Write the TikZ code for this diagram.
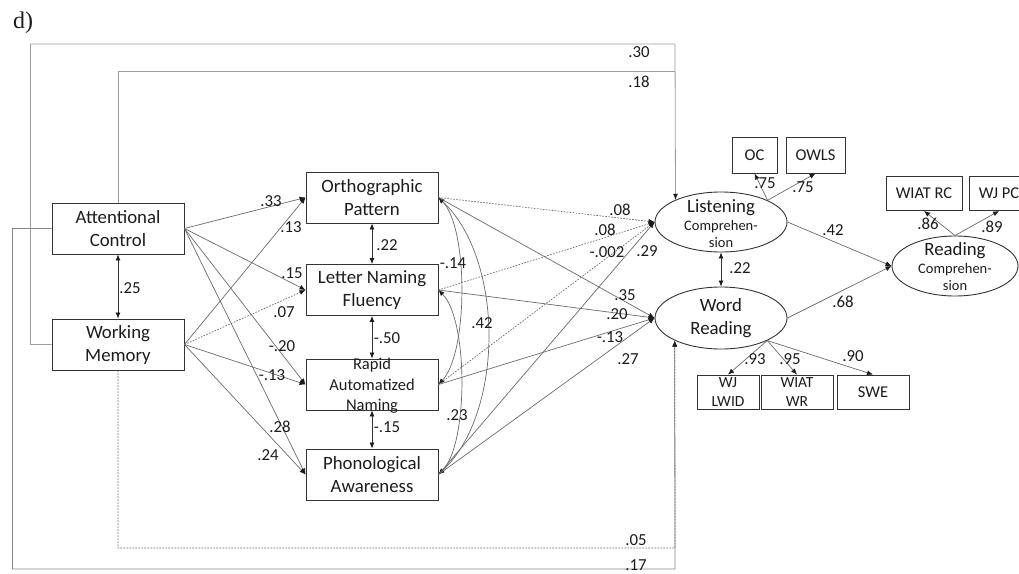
\documentclass[tikz,border=0pt]{standalone}
\usepackage{fontspec}
\setmainfont{Carlito}
\newfontfamily\paneltag{Liberation Serif}
\usetikzlibrary{arrows.meta,shapes.geometric}
\definecolor{ink}{HTML}{1C1C1C}
\definecolor{edge}{HTML}{6A6A6A}
\definecolor{faint}{HTML}{9C9C9C}
\definecolor{mid}{HTML}{858585}
\definecolor{frame}{HTML}{333333}

\begin{document}
\begin{tikzpicture}[x=1pt,y=-1pt,
  box/.style={draw=frame, line width=0.9pt, text=ink, align=center, inner sep=0pt,
    minimum width=132pt, minimum height=51pt, font=\fontsize{18.8}{23}\selectfont},
  ind/.style={draw=frame, line width=0.9pt, text=ink, align=center, inner sep=0pt,
    minimum height=34pt, font=\fontsize{16.5}{19}\selectfont},
  lat/.style={draw=frame, line width=0.9pt, ellipse, inner sep=0pt},
  txt/.style={text=ink, align=center, inner sep=0pt},
  lab/.style={text=ink, inner sep=0pt, font=\fontsize{16.8}{18}\selectfont},
  tip/.tip={Latex[length=6pt,width=5pt,color=ink]},
  path/.style={draw=edge, line width=0.7pt, -tip},
  dpath/.style={draw=edge, line width=0.7pt, dash pattern=on 1.6pt off 1.4pt, -tip},
  bi/.style={draw=edge, line width=0.7pt, tip-tip},
  vbi/.style={draw=frame, line width=0.8pt, tip-tip},
]
\useasboundingbox (0,0) rectangle (1019,573);

% panel tag
\node[text=ink, inner sep=0pt, font=\paneltag\fontsize{24}{26}\selectfont] (tag) at (23,23) {d)};

% predictors
\node[box] (AC) at (118,228.5) {Attentional\\Control};
\node[box] (WM) at (118,344.5) {Working\\Memory};

% reading-related skills
\node[box] (OP)  at (372,197.5) {Orthographic\\Pattern};
\node[box] (LNF) at (372,290)   {Letter Naming\\Fluency};
\node[box] (RAN) at (372,384.5) {};
\node[txt, font=\fontsize{16.5}{20.5}\selectfont] (RANt) at (372,386) {Rapid\\Automatized\\Naming};
\node[box] (PA)  at (372,474.5) {Phonological\\Awareness};

% latent outcomes
\node[lat, minimum width=132pt, minimum height=60pt] (LC) at (721,222) {};
\node[txt, font=\fontsize{14.5}{17}\selectfont] (LCt) at (721,224)
  {{\fontsize{18.8}{19}\selectfont Listening}\\[1pt]Comprehen-\\sion};
\node[lat, minimum width=132pt, minimum height=62pt] (WR) at (721,318) {};
\node[txt, font=\fontsize{18.8}{23}\selectfont] (WRt) at (721,318.5) {Word\\Reading};
\node[lat, minimum width=126pt, minimum height=60pt] (RC) at (955,266) {};
\node[txt, font=\fontsize{14.5}{17}\selectfont] (RCt) at (955,267)
  {{\fontsize{18.8}{19}\selectfont Reading}\\[1pt]Comprehen-\\sion};

% indicators
\node[ind, minimum width=45pt, minimum height=36pt] (OC)   at (754.5,155) {OC};
\node[ind, minimum width=59pt, minimum height=36pt] (OWLS) at (815.5,155) {OWLS};
\node[ind, minimum width=76pt] (WIATRC) at (924,193.5) {WIAT RC};
\node[ind, minimum width=60pt] (WJPC)   at (999,193.5) {WJ PC};
\node[ind, minimum width=62pt, font=\fontsize{15.5}{19}\selectfont] (WJLWID) at (728,392) {WJ\\LWID};
\node[ind, minimum width=72pt, font=\fontsize{15.5}{19}\selectfont] (WIATWR) at (797,392) {WIAT\\WR};
\node[ind, minimum width=72pt] (SWE) at (873,392) {SWE};

% long paths around the model
\draw[faint, line width=0.8pt, -tip] (WM.west) -- ++(-21,0) |- (675,44) -- (LC.154.4);
\draw[faint, line width=0.8pt] (AC.north) |- (675,71);
\draw[mid, line width=0.8pt, -tip] (AC.west) -- ++(-39,0) |- (675,569) -- (WR.206.6);
\draw[dpath] (WM.south) |- (675,548) -- (WR.206.6);

% predictors to skills
\draw[vbi] (AC.south) -- (WM.north);
\draw[path] (AC.east) -- (OP.west);
\draw[path] (AC.east) -- (LNF.west);
\draw[path] (AC.east) -- (RAN.west);
\draw[path] (AC.east) -- (PA.west);
\draw[path] (WM.east) -- (OP.west);
\draw[dpath] (WM.east) -- (LNF.west);
\draw[path] (WM.east) -- (RAN.west);
\draw[path] (WM.east) -- (PA.west);

% correlations among skills
\draw[vbi] (OP.south) -- (LNF.north);
\draw[vbi] (LNF.south) -- (RAN.north);
\draw[vbi] (RAN.south) -- (PA.north);
\draw[bi] (OP.east) .. controls +(30,30) and +(30,-32) .. (RAN.east);
\draw[bi] (LNF.east) .. controls +(30,30) and +(30,-30) .. (PA.east);
\draw[bi] (OP.east) .. controls +(66,62) and +(66,-62) .. (PA.east);

% skills to outcomes
\draw[dpath] (OP.east) -- (LC.west);
\draw[path] (OP.east) -- (WR.west);
\draw[dpath] (LNF.east) -- (LC.west);
\draw[path] (LNF.east) -- (WR.west);
\draw[dpath] (RAN.east) -- (LC.west);
\draw[path] (RAN.east) -- (WR.west);
\draw[path] (PA.east) -- (LC.west);
\draw[path] (PA.east) -- (WR.west);

% measurement and structural paths
\draw[vbi] (LC.south) -- (WR.north);
\draw[path] (LC.east) -- (RC.west);
\draw[path] (WR.east) -- (RC.west);
\draw[path] (LC.25.6) -- (OC.south);
\draw[path] (LC.25.6) -- (OWLS.south);
\draw[path] (RC.north) -- (WIATRC.south);
\draw[path] (RC.north) -- (WJPC.south);
\draw[path] (WR.-26) -- (WJLWID.north);
\draw[path] (WR.-26) -- (WIATWR.north);
\draw[path] (WR.-26) -- (SWE.north);

% coefficients
\node[lab] (c30) at (639,52) {.30};
\node[lab] (c18) at (639,82) {.18};
\node[lab] (c05) at (636,540) {.05};
\node[lab] (c17) at (636,565) {.17};
\node[lab] (c25) at (130,288) {.25};
\node[lab] (c33) at (271,201) {.33};
\node[lab] (c13a) at (291,227) {.13};
\node[lab] (c15) at (292,273) {.15};
\node[lab] (c07) at (284,312) {.07};
\node[lab] (c20a) at (282,346) {-.20};
\node[lab] (c13b) at (272,375) {-.13};
\node[lab] (c28) at (280,427) {.28};
\node[lab] (c24) at (268,455) {.24};
\node[lab] (c22a) at (387,245) {.22};
\node[lab] (c50) at (387,338) {-.50};
\node[lab] (c15b) at (387,427) {-.15};
\node[lab] (c14) at (453,263) {-.14};
\node[lab] (c42a) at (482,323) {.42};
\node[lab] (c23) at (457,415) {.23};
\node[lab] (c08a) at (620,210) {.08};
\node[lab] (c08b) at (605,230) {.08};
\node[lab] (c002) at (607,252) {-.002};
\node[lab] (c29) at (647,251) {.29};
\node[lab] (c35) at (625,295) {.35};
\node[lab] (c20b) at (617,314) {.20};
\node[lab] (c13c) at (610,337) {-.13};
\node[lab] (c27) at (628,359) {.27};
\node[lab] (c22b) at (740,268) {.22};
\node[lab] (c75a) at (765,183) {.75};
\node[lab] (c75b) at (803,187) {.75};
\node[lab] (c42b) at (833,230) {.42};
\node[lab] (c68) at (843,302) {.68};
\node[lab] (c86) at (928,224) {.86};
\node[lab] (c89) at (992,227) {.89};
\node[lab] (c93) at (755,359) {.93};
\node[lab] (c95) at (790,359) {.95};
\node[lab] (c90) at (853,356) {.90};
\end{tikzpicture}
\end{document}
